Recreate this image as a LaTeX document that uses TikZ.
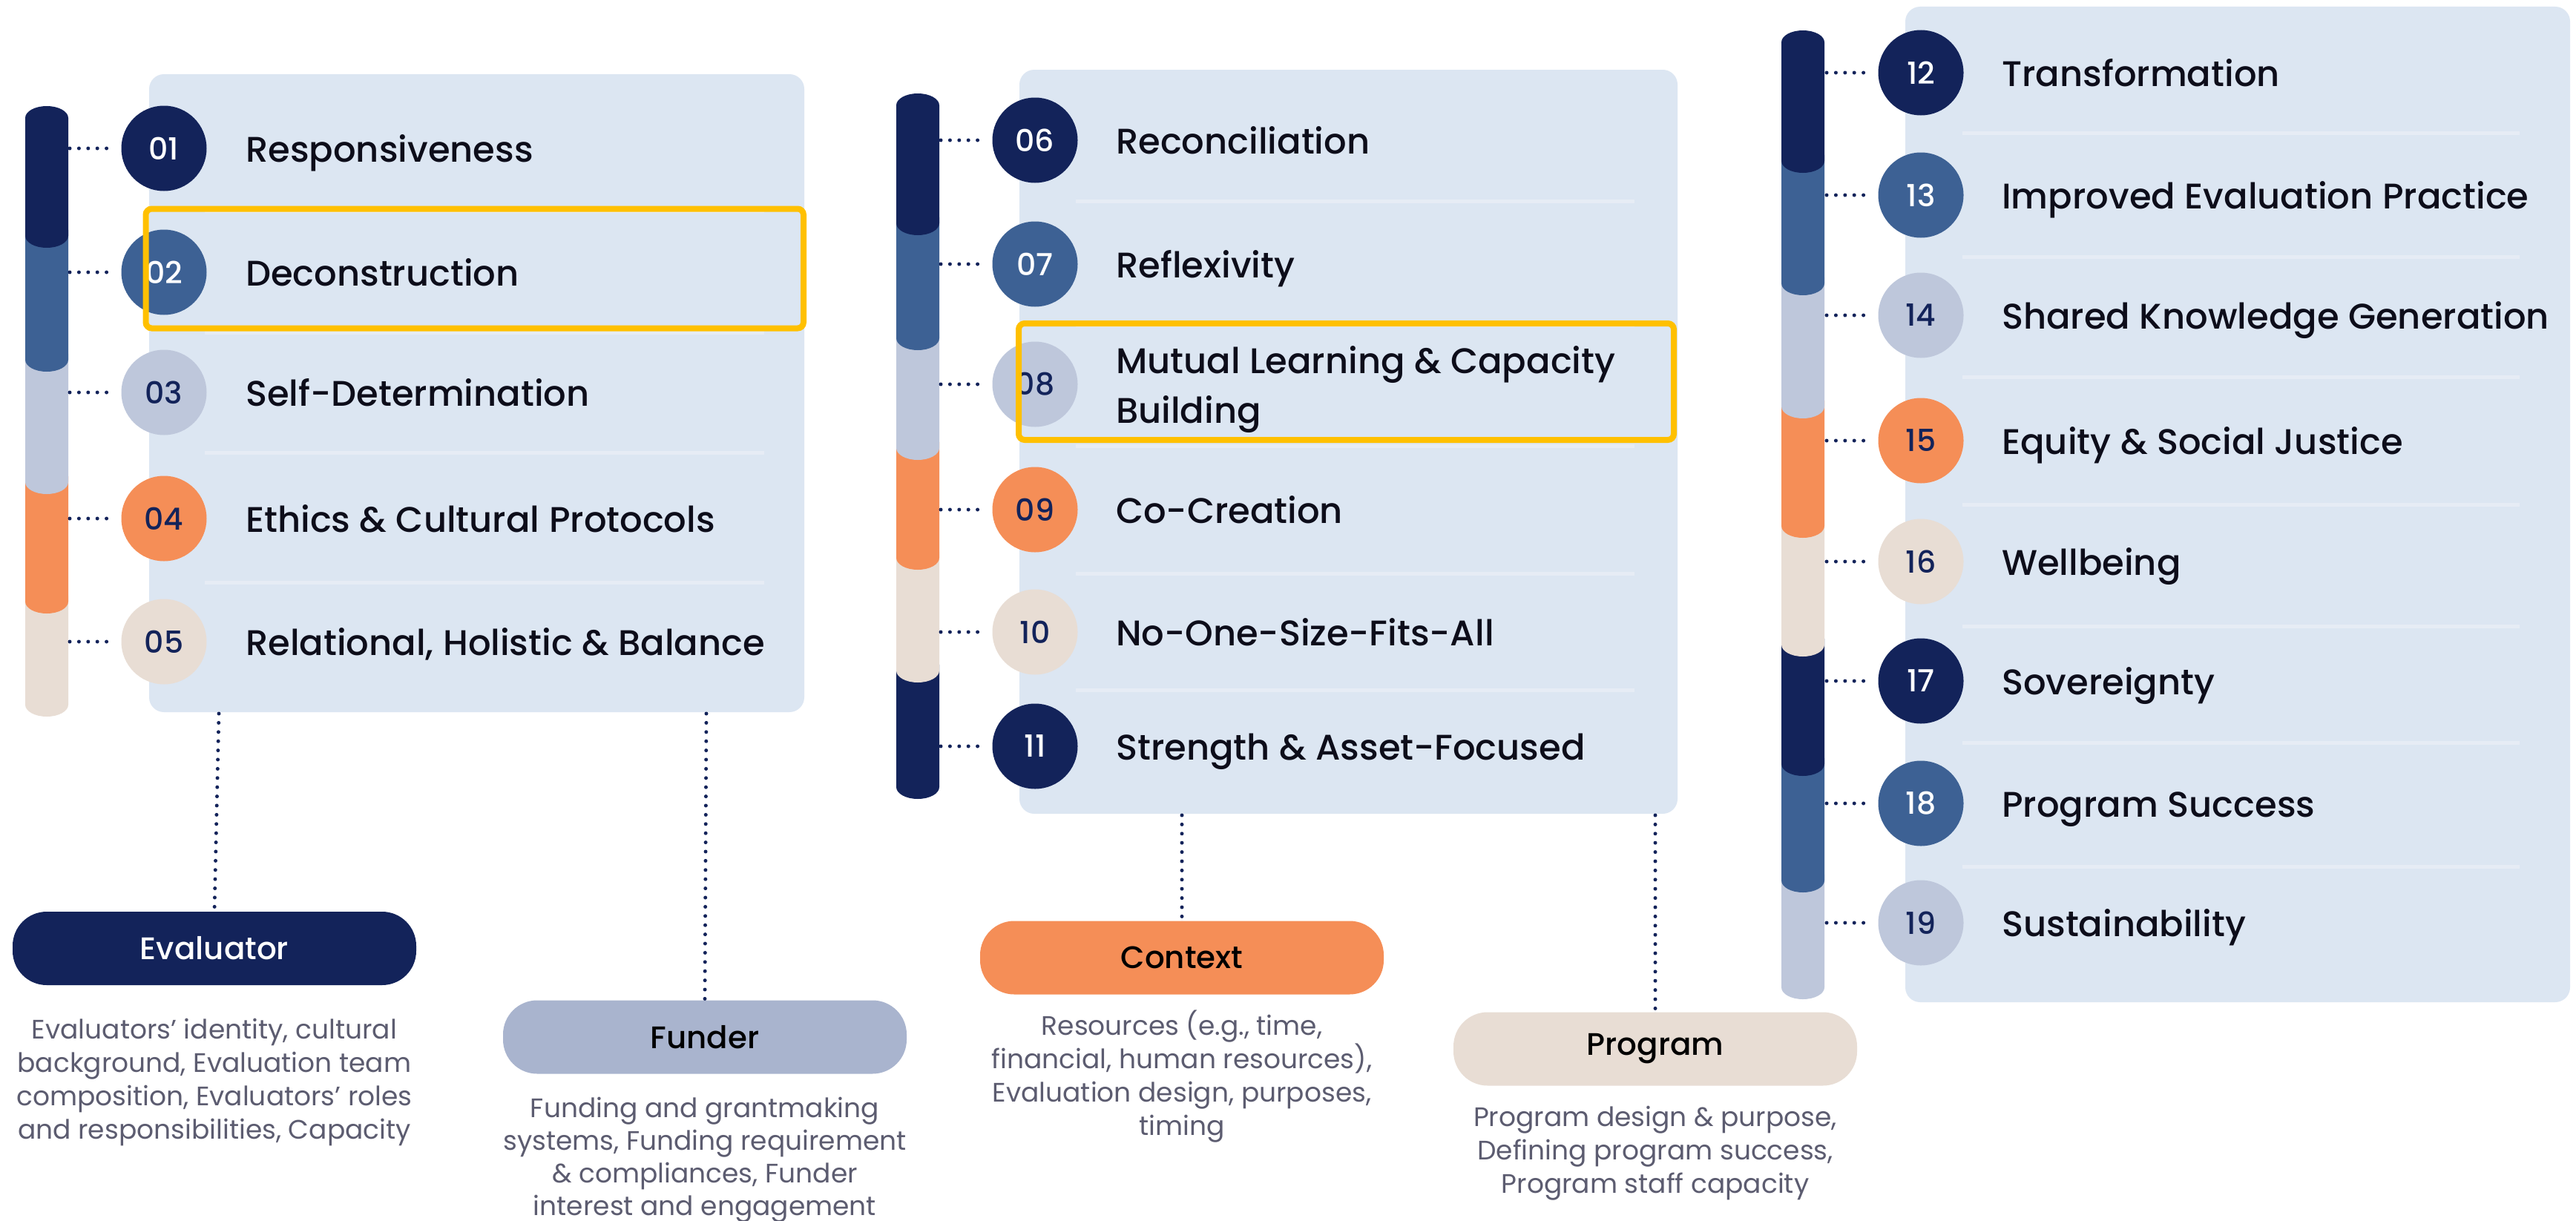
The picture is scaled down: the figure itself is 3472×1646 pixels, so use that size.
\documentclass[tikz,border=0pt]{standalone}
\usepackage{fontspec}
\setmainfont{Poppins}
\newfontfamily\medfont{Poppins Medium}
\newfontfamily\numfont{Poppins Medium}
\newfontfamily\descfont{Poppins}
\definecolor{navy}{HTML}{13235A}
\definecolor{blueC}{HTML}{3D6194}
\definecolor{greyC}{HTML}{BEC7DB}
\definecolor{orangeC}{HTML}{F58E57}
\definecolor{beigeC}{HTML}{E8DDD4}
\definecolor{boxC}{HTML}{DCE6F2}
\definecolor{sepC}{HTML}{E6ECF5}
\definecolor{yellowC}{HTML}{FFC000}
\definecolor{funderC}{HTML}{A9B4CE}
\definecolor{descC}{HTML}{5C5C70}
\definecolor{labelC}{HTML}{0D0D1A}
\newcommand\barseg[4]{%
  \fill[#4] ({#1-29},{-(#2)-16}) arc[start angle=180,end angle=0,x radius=29pt,y radius=16pt]
    -- ({#1+29},{-(#3)+16}) arc[start angle=0,end angle=-180,x radius=29pt,y radius=16pt] -- cycle;}
\begin{document}
\begin{tikzpicture}[x=1pt,y=1pt,
  panelbox/.style={fill=boxC, rounded corners=20pt},
  sepline/.style={draw=sepC, line width=5pt},
  numc/.style={circle, minimum size=115pt, inner sep=0pt, font=\numfont\fontsize{41}{44}\selectfont},
  cnavy/.style={numc, fill=navy, text=white},
  cblue/.style={numc, fill=blueC, text=white},
  cgrey/.style={numc, fill=greyC, text=navy},
  corange/.style={numc, fill=orangeC, text=navy},
  cbeige/.style={numc, fill=beigeC, text=navy},
  lbl/.style={anchor=base west, inner sep=0pt, text=labelC, font=\medfont\fontsize{48}{67}\selectfont},
  dots/.style={draw=navy, line width=5pt, line cap=round, dash pattern=on 0pt off 12.4pt},
  hl/.style={draw=yellowC, line width=8pt, rounded corners=8pt},
  pill/.style={rounded corners=46pt, minimum width=544pt, minimum height=99pt, inner sep=0pt, font=\medfont\fontsize{42}{46}\selectfont},
  desc/.style={anchor=base, inner sep=0pt, text=descC, font=\descfont\fontsize{36}{45}\selectfont}
]
\fill[white] (0,0) rectangle (3472,-1646);
\useasboundingbox (0,0) rectangle (3472,-1646);

% ---------- panel boxes ----------
\fill[panelbox] (201,-100) rectangle (1084,-960);
\fill[panelbox] (1374,-94) rectangle (2261,-1097);
\fill[panelbox] (2568,-9) rectangle (3464,-1351);

% separators
\foreach \y in {284,448,610,785} \draw[sepline] (276,-\y) -- (1030,-\y);
\foreach \y in {271,438,601,773,930} \draw[sepline] (1450,-\y) -- (2203,-\y);
\foreach \y in {179,346,508,680,844,1001,1168} \draw[sepline] (2645,-\y) -- (3396,-\y);

% ---------- bars ----------
\barseg{63}{787}{966}{beigeC}
\barseg{63}{626}{827}{orangeC}
\barseg{63}{461}{666}{greyC}
\barseg{63}{294}{501}{blueC}
\barseg{63}{143}{334}{navy}

\barseg{1237}{880}{1077}{navy}
\barseg{1237}{728}{920}{beigeC}
\barseg{1237}{580}{768}{orangeC}
\barseg{1237}{432}{620}{greyC}
\barseg{1237}{277}{472}{blueC}
\barseg{1237}{126}{317}{navy}

\barseg{2430}{1163}{1347}{greyC}
\barseg{2430}{1006}{1203}{blueC}
\barseg{2430}{845}{1046}{navy}
\barseg{2430}{685}{885}{beigeC}
\barseg{2430}{524}{725}{orangeC}
\barseg{2430}{358}{564}{greyC}
\barseg{2430}{193}{398}{blueC}
\barseg{2430}{41}{233}{navy}

% ---------- panel 1 ----------
\node[cnavy]   (c01) at (221,-200) {01};
\node[cblue]   (c02) at (221,-367) {02};
\node[cgrey]   (c03) at (221,-529) {03};
\node[corange] (c04) at (221,-699) {04};
\node[cbeige]  (c05) at (221,-865) {05};
\foreach \n/\y in {01/200,02/367,03/529,04/699,05/865} {
  \coordinate (b\n) at (94,-\y);
  \draw[dots, shorten >=9pt] (b\n) -- (c\n.west);
}
\node[lbl] (l01) at (331,-218) {Responsiveness};
\node[lbl] (l02) at (331,-385) {Deconstruction};
\node[lbl] (l03) at (331,-547) {Self-Determination};
\node[lbl] (l04) at (331,-717) {Ethics \& Cultural Protocols};
\node[lbl] (l05) at (331,-883) {Relational, Holistic \& Balance};

% ---------- panel 2 ----------
\node[cnavy]   (c06) at (1395,-189) {06};
\node[cblue]   (c07) at (1395,-356) {07};
\node[cgrey]   (c08) at (1395,-518) {08};
\node[corange] (c09) at (1395,-687) {09};
\node[cbeige]  (c10) at (1395,-852) {10};
\node[cnavy]   (c11) at (1395,-1006) {11};
\foreach \n/\y in {06/189,07/356,08/518,09/687,10/852,11/1006} {
  \coordinate (b\n) at (1268,-\y);
  \draw[dots, shorten >=9pt] (b\n) -- (c\n.west);
}
\node[lbl] (l06) at (1504,-207) {Reconciliation};
\node[lbl] (l07) at (1504,-374) {Reflexivity};
\node[lbl] (l08a) at (1504,-503) {Mutual Learning \& Capacity};
\node[lbl] (l08b) at (1504,-570) {Building};
\node[lbl] (l09) at (1504,-705) {Co-Creation};
\node[lbl] (l10) at (1504,-870) {No-One-Size-Fits-All};
\node[lbl] (l11) at (1504,-1024) {Strength \& Asset-Focused};

% ---------- panel 3 ----------
\node[cnavy]   (c12) at (2589,-98) {12};
\node[cblue]   (c13) at (2589,-263) {13};
\node[cgrey]   (c14) at (2589,-425) {14};
\node[corange] (c15) at (2589,-594) {15};
\node[cbeige]  (c16) at (2589,-757) {16};
\node[cnavy]   (c17) at (2589,-918) {17};
\node[cblue]   (c18) at (2589,-1083) {18};
\node[cgrey]   (c19) at (2589,-1244) {19};
\foreach \n/\y in {12/98,13/263,14/425,15/594,16/757,17/918,18/1083,19/1244} {
  \coordinate (b\n) at (2462,-\y);
  \draw[dots, shorten >=9pt] (b\n) -- (c\n.west);
}
\node[lbl] (l12) at (2698,-116) {Transformation};
\node[lbl] (l13) at (2698,-281) {Improved Evaluation Practice};
\node[lbl] (l14) at (2698,-443) {Shared Knowledge Generation};
\node[lbl] (l15) at (2698,-612) {Equity \& Social Justice};
\node[lbl] (l16) at (2698,-775) {Wellbeing};
\node[lbl] (l17) at (2698,-936) {Sovereignty};
\node[lbl] (l18) at (2698,-1101) {Program Success};
\node[lbl] (l19) at (2698,-1262) {Sustainability};

% ---------- highlights ----------
\draw[hl] (196.5,-281.5) rectangle (1083,-442.5);
\draw[hl] (1373,-436) rectangle (2256,-593);

% ---------- bottom pills ----------
\node[pill, fill=navy, text=white] (ev) at (289,-1278.5) {Evaluator};
\node[pill, fill=funderC, text=black] (fu) at (950,-1398) {Funder};
\node[pill, fill=orangeC, text=black] (co) at (1593,-1291) {Context};
\node[pill, fill=beigeC, text=black] (pr) at (2231,-1414) {Program};

\coordinate (p1a) at (295,-962);
\coordinate (p1b) at (952,-962);
\coordinate (p2a) at (1593,-1099);
\coordinate (p2b) at (2231,-1099);
\draw[dots] (p1a) -- (ev.north);
\draw[dots] (p1b) -- (fu.north);
\draw[dots] (p2a) -- (co.north);
\draw[dots] (p2b) -- (pr.north);

% ---------- descriptions ----------
\node[desc] (ed1) at (289,-1400) {Evaluators’ identity, cultural};
\node[desc] (ed2) at (289,-1445) {background, Evaluation team};
\node[desc] (ed3) at (289,-1490) {composition, Evaluators’ roles};
\node[desc] (ed4) at (289,-1535) {and responsibilities, Capacity};

\node[desc] (fd1) at (950,-1506) {Funding and grantmaking};
\node[desc] (fd2) at (950,-1550) {systems, Funding requirement};
\node[desc] (fd3) at (950,-1594) {\& compliances, Funder};
\node[desc] (fd4) at (950,-1638) {interest and engagement};

\node[desc] (cd1) at (1593,-1395) {Resources (e.g., time,};
\node[desc] (cd2) at (1593,-1440) {financial, human resources),};
\node[desc] (cd3) at (1593,-1485) {Evaluation design, purposes,};
\node[desc] (cd4) at (1593,-1530) {timing};

\node[desc] (pd1) at (2231,-1518) {Program design \& purpose,};
\node[desc] (pd2) at (2231,-1563) {Defining program success,};
\node[desc] (pd3) at (2231,-1608) {Program staff capacity};
\end{tikzpicture}
\end{document}
